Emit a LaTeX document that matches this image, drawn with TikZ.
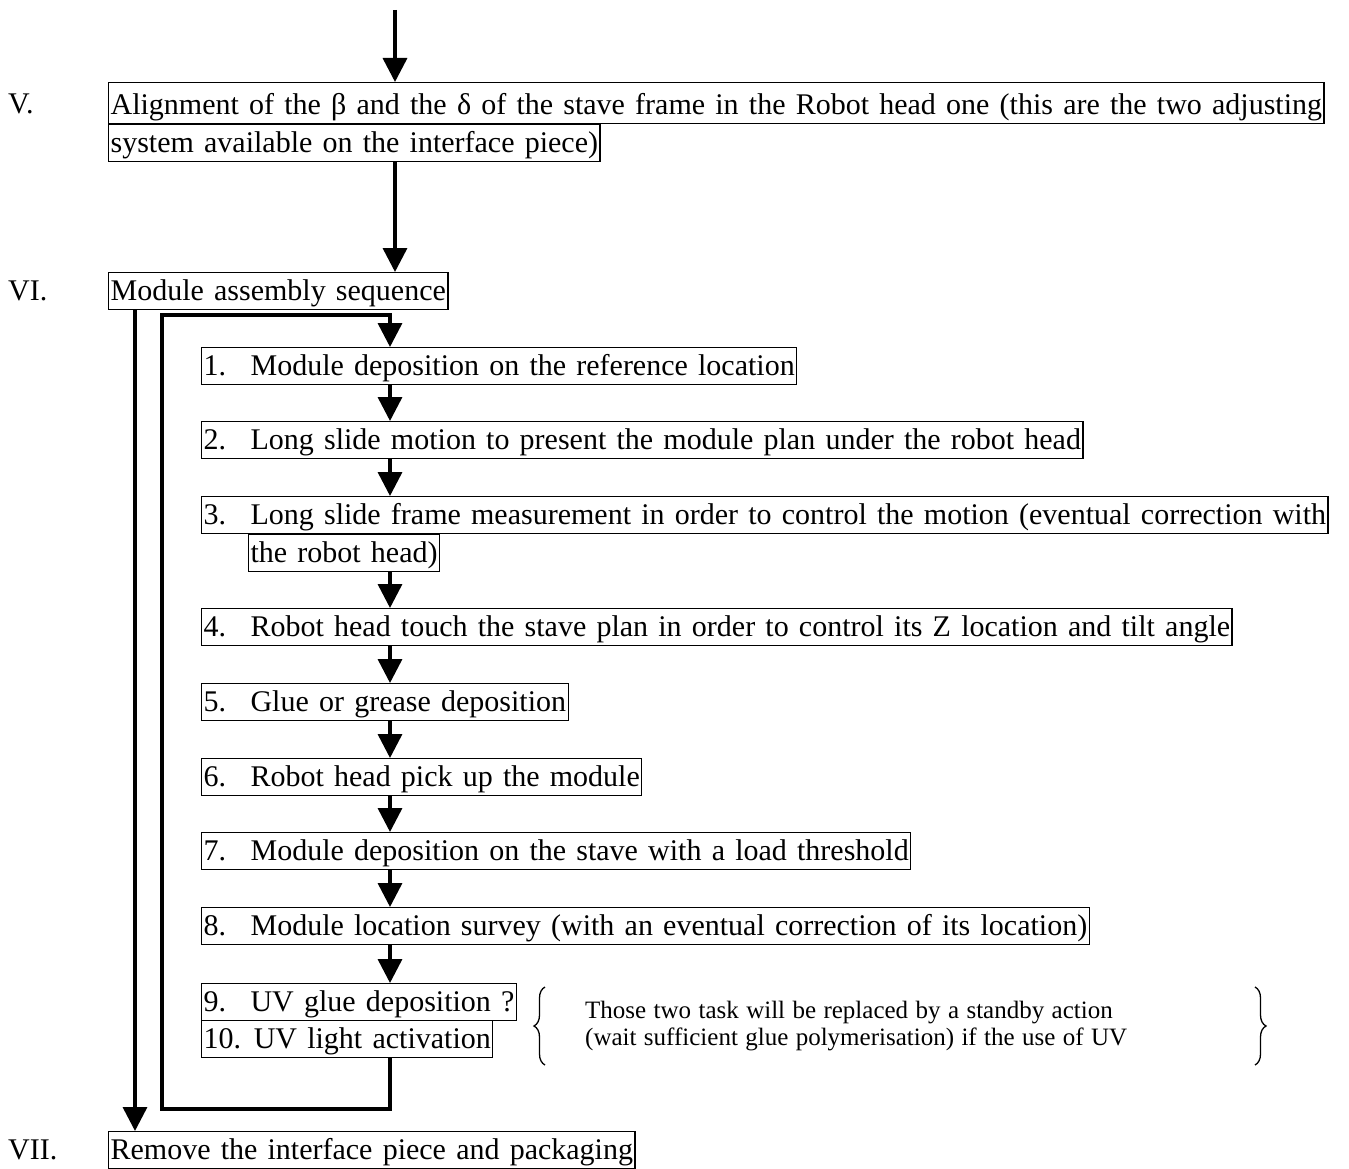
\documentclass[tikz,border=0pt]{standalone}
\usepackage{fontspec}
\setmainfont{Liberation Serif}
\usetikzlibrary{arrows.meta,decorations.pathreplacing}
\newcommand{\mainsize}{\fontsize{30}{36}\selectfont\spaceskip=10.2pt\relax}
\newcommand{\smallsz}{\fontsize{25}{27}\selectfont\spaceskip=7.4pt\relax}
\newcommand{\nm}[1]{\makebox[47pt][l]{#1}}
\tikzset{
  box/.style={draw, line width=1.2pt, anchor=north west, inner xsep=2pt, inner ysep=1pt,
              text height=27pt, text depth=8pt, font=\mainsize},
  tallbox/.style={box, text height=31pt},
  arr/.style={line width=3.5pt, line join=miter, -{Triangle[length=24pt,width=24pt]}},
  roman/.style={anchor=base west, inner sep=0pt, font=\mainsize},
  note/.style={anchor=base west, inner sep=0pt, font=\smallsz, align=left},
  bracestyle/.style={decorate, decoration={brace, amplitude=11pt}, line width=1.3pt}
}
\begin{document}
\begin{tikzpicture}[x=1pt,y=-1pt]
\useasboundingbox (0,0) rectangle (1349,1169);
% main boxes
\node[tallbox] (V1) at (108,82) {Alignment of the β and the δ of the stave frame in the Robot head one (this are the two adjusting};
\node[box] (V2) at (108,124) {system available on the interface piece)};
\node[roman] (nV) at (8,114) {V.};
\node[box] (VI) at (108,272) {Module assembly sequence};
\node[roman] (nVI) at (8,300) {VI.};
% steps
\node[box] (S1) at (201,347) {\nm{1.}Module deposition on the reference location};
\node[box] (S2) at (201,421) {\nm{2.}Long slide motion to present the module plan under the robot head};
\node[box] (S3) at (201,496) {\nm{3.}Long slide frame measurement in order to control the motion (eventual correction with};
\node[box] (S3b) at (248,534) {the robot head)};
\node[box] (S4) at (201,608) {\nm{4.}Robot head touch the stave plan in order to control its Z location and tilt angle};
\node[box] (S5) at (201,683) {\nm{5.}Glue or grease deposition};
\node[box] (S6) at (201,758) {\nm{6.}Robot head pick up the module};
\node[box] (S7) at (201,832) {\nm{7.}Module deposition on the stave with a load threshold};
\node[box] (S8) at (201,907) {\nm{8.}Module location survey (with an eventual correction of its location)};
\node[box] (S9) at (201,983) {\nm{9.}UV glue deposition ?};
\node[box] (S10) at (201,1020) {10. UV light activation};
\node[box] (VII) at (108,1131) {Remove the interface piece and packaging};
\node[roman] (nVII) at (8,1159) {VII.};
% note
\node[note] (txt) at (585,1045) {Those two task will be replaced by a standby action\\(wait sufficient glue polymerisation) if the use of UV};
\coordinate (bl1) at (545,1065);
\coordinate (bl2) at (545,987);
\coordinate (br1) at (1255,987);
\coordinate (br2) at (1255,1065);
\draw[bracestyle] (bl1) -- (bl2);
\draw[bracestyle] (br1) -- (br2);
% coordinates for connectors
\coordinate (top) at (395,10);
\coordinate (ax) at (390,0);
\coordinate (lx) at (135,0);
\coordinate (lb) at (162,1109);
\coordinate (lt) at (162,315);
% connectors
\draw[arr] (top) -- (top |- V1.north);
\draw[arr] (top |- V2.south) -- (top |- VI.north);
\draw[arr] (lx |- VI.south) -- (lx |- VII.north);
\draw[arr] (ax |- S10.south) |- (lb) -- (lt) -| (ax |- S1.north);
\foreach \a/\b in {S1/S2,S2/S3,S3b/S4,S4/S5,S5/S6,S6/S7,S7/S8,S8/S9}
  \draw[arr] (ax |- \a.south) -- (ax |- \b.north);
\end{tikzpicture}
\end{document}
